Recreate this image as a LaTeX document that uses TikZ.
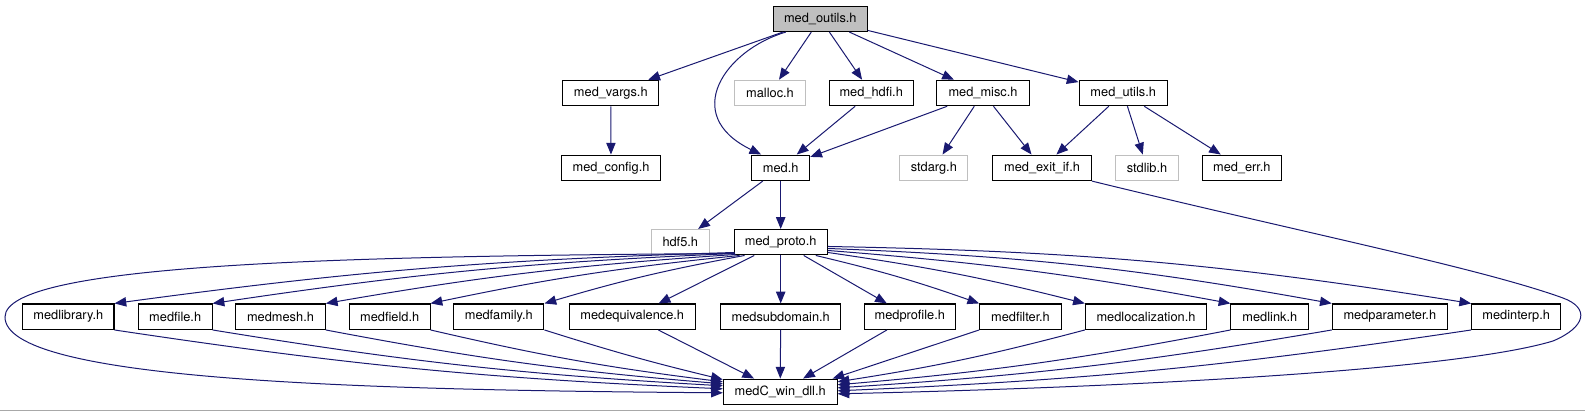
\documentclass[tikz,border=0pt]{standalone}
\usepackage{fontspec}
\setmainfont{TeX Gyre Heros}
\usetikzlibrary{arrows.meta,calc}
\definecolor{edgec}{HTML}{191970}
\definecolor{grayb}{HTML}{BFBFBF}
\definecolor{rulec}{HTML}{A8A8A8}
\begin{document}
\begin{tikzpicture}[x=0.75pt,y=-0.75pt,
  box/.style={draw=black, line width=0.8pt, minimum height=19.1pt, inner sep=0pt, fill=white, font=\fontsize{9.6}{11}\selectfont},
  gbox/.style={box, draw=grayb},
  edge/.style={draw=edgec, line width=0.75pt, -{Triangle[length=8.8pt,width=7pt]}}]
\useasboundingbox (0,0) rectangle (1585,411);
\draw[rulec, line width=0.75pt] (0,410) -- (1585,410);
% row 0
\node[box, fill=grayb, minimum width=70.5pt] (outils) at (820.3,18.8) {med\_outils.h};
% row 1
\node[box, minimum width=72.2pt] (vargs) at (610.8,93) {med\_vargs.h};
\node[gbox, minimum width=53.6pt] (malloc) at (770,93) {malloc.h};
\node[box, minimum width=63.2pt] (hdfi) at (871.2,93) {med\_hdfi.h};
\node[box, minimum width=69.5pt] (misc) at (983,93) {med\_misc.h};
\node[box, minimum width=66.2pt] (utils) at (1123.2,93) {med\_utils.h};
% row 2
\node[box, minimum width=74pt] (config) at (611,167.8) {med\_config.h};
\node[box, minimum width=43.5pt] (med) at (780.7,167.8) {med.h};
\node[gbox, minimum width=51.2pt] (stdarg) at (933.8,167.8) {stdarg.h};
\node[box, minimum width=74pt] (exitif) at (1042,167.8) {med\_exit\_if.h};
\node[gbox, minimum width=47.6pt] (stdlib) at (1147,167.8) {stdlib.h};
\node[box, minimum width=59.3pt] (err) at (1241.8,167.8) {med\_err.h};
% row 3
\node[gbox, minimum width=43.3pt] (hdf5) at (680.3,242.2) {hdf5.h};
\node[box, minimum width=69.8pt] (proto) at (780.7,242.2) {med\_proto.h};
% row 4
\node[box, minimum width=68.5pt] (medlibrary) at (68.3,316.7) {medlibrary.h};
\node[box, minimum width=55.3pt] (medfile) at (175.2,316.7) {medfile.h};
\node[box, minimum width=67.2pt] (medmesh) at (280.5,316.7) {medmesh.h};
\node[box, minimum width=60.5pt] (medfield) at (389.7,316.7) {medfield.h};
\node[box, minimum width=67.7pt] (medfamily) at (498.8,316.7) {medfamily.h};
\node[box, minimum width=94.7pt] (medequiv) at (632.2,316.7) {medequivalence.h};
\node[box, minimum width=90pt] (medsub) at (780.7,316.7) {medsubdomain.h};
\node[box, minimum width=68.3pt] (medprofile) at (909.8,316.7) {medprofile.h};
\node[box, minimum width=61.2pt] (medfilter) at (1020.5,316.7) {medfilter.h};
\node[box, minimum width=91pt] (medlocal) at (1146,316.7) {medlocalization.h};
\node[box, minimum width=58.3pt] (medlink) at (1269.8,316.7) {medlink.h};
\node[box, minimum width=86.3pt] (medparam) at (1389.8,316.7) {medparameter.h};
\node[box, minimum width=66.8pt] (medinterp) at (1516.2,316.7) {medinterp.h};
% bottom
\node[box, minimum width=85.3pt] (medC) at (780.2,391.8) {medC\_win\_dll.h};
% top edges
\draw[edge] (outils) -- (vargs);
\draw[edge] ($(outils.south west)+(13,0)$) .. controls (725,50) and (680,115) .. ($(med.north west)+(10,0)$);
\draw[edge] (outils) -- (malloc);
\draw[edge] (outils) -- (hdfi);
\draw[edge] (outils) -- (misc);
\draw[edge] (outils) -- (utils);
\draw[edge] (vargs) -- (config);
\draw[edge] (hdfi) -- (med);
\draw[edge] (misc) -- (med);
\draw[edge] (misc) -- (stdarg);
\draw[edge] (misc) -- (exitif);
\draw[edge] (utils) -- (exitif);
\draw[edge] (utils) -- (stdlib);
\draw[edge] (utils) -- (err);
\draw[edge] (med) -- (hdf5);
\draw[edge] (med) -- (proto);
\draw[edge] (exitif.south east) .. controls (1300,232) and (1480,268) .. (1563,298)
  .. controls (1590,308) and (1586,327) .. (1553,341)
  .. controls (1450,372) and (1100,388) .. ($(medC.east)+(0,2)$);
% proto fan
\draw[edge] ($(proto.south west)+(1,-2)$) .. controls (350,256) and (5,263) .. (5,317)
  .. controls (5,380) and (350,390) .. ($(medC.west)+(0,1)$);
\draw[edge] ($(proto.south west)+(1,-3)$) to[bend right=3] (medlibrary.north east);
\draw[edge] ($(proto.south west)+(1,-2)$) to[bend right=3] (medfile.north east);
\draw[edge] ($(proto.south west)+(2,-1)$) to[bend right=3] (medmesh.north east);
\draw[edge] ($(proto.south west)+(6,0)$) to[bend right=3] (medfield.north east);
\draw[edge] ($(proto.south west)+(11,0)$) to[bend right=3] (medfamily.north east);
\draw[edge] (proto) -- (medequiv);
\draw[edge] (proto) -- (medsub);
\draw[edge] (proto) -- (medprofile);
\draw[edge] ($(proto.south east)+(-12,0)$) to[bend left=3] (medfilter.north west);
\draw[edge] ($(proto.south east)+(0,-3)$) to[bend left=3] (medlocal.north west);
\draw[edge] ($(proto.south east)+(0,-5)$) to[bend left=3] (medlink.north west);
\draw[edge] ($(proto.south east)+(0,-7)$) to[bend left=4] (medparam.north west);
\draw[edge] ($(proto.south east)+(0,-9)$) to[bend left=4] (medinterp.north west);
% row 4 to medC
\draw[edge] (medlibrary.south east) to[bend right=3] ($(medC.west)+(0,-3)$);
\draw[edge] (medfile.south east) to[bend right=3] ($(medC.west)+(0,-6)$);
\draw[edge] (medmesh.south east) to[bend right=3] ($(medC.west)+(0,-8)$);
\draw[edge] (medfield.south east) to[bend right=3] ($(medC.west)+(0,-10)$);
\draw[edge] (medfamily.south east) to[bend right=2] ($(medC.north west)+(0,1)$);
\draw[edge] (medequiv) -- (medC);
\draw[edge] (medsub) -- (medC);
\draw[edge] (medprofile) -- (medC);
\draw[edge] (medfilter.south west) -- ($(medC.north east)+(-5,0)$);
\draw[edge] (medlocal.south west) to[bend left=3] ($(medC.east)+(0,-10)$);
\draw[edge] (medlink.south west) to[bend left=3] ($(medC.east)+(0,-7)$);
\draw[edge] (medparam.south west) to[bend left=3] ($(medC.east)+(0,-4)$);
\draw[edge] (medinterp.south west) to[bend left=3] ($(medC.east)+(0,-1)$);
\end{tikzpicture}
\end{document}
